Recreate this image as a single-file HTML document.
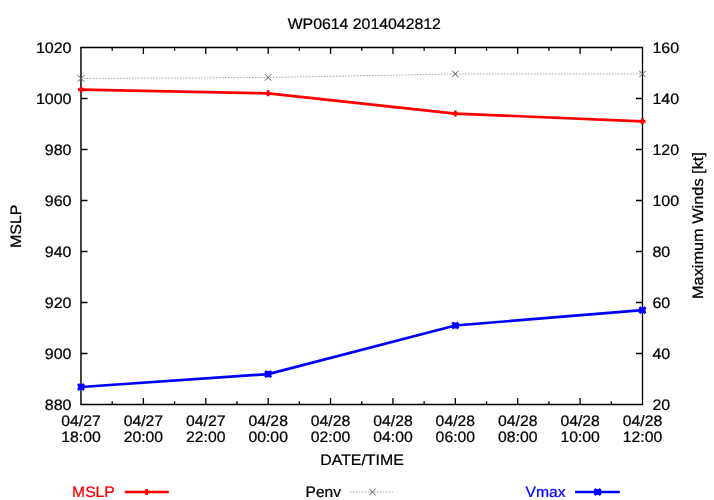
<!DOCTYPE html>
<html><head><meta charset="utf-8"><title>WP0614 2014042812</title>
<style>html,body{margin:0;padding:0;background:#fff;overflow:hidden;}svg{display:block;will-change:transform;}text{text-rendering:geometricPrecision;stroke-width:0.25px;font-family:"Liberation Sans",sans-serif;font-size:16px;}</style>
</head><body>
<svg width="714" height="500" viewBox="0 0 714 500">
<rect x="0" y="0" width="714" height="500" fill="#ffffff"/>
<path d="M81.00 98.50h6.50M642.50 98.50h-6.50M81.00 149.50h6.50M642.50 149.50h-6.50M81.00 200.50h6.50M642.50 200.50h-6.50M81.00 251.50h6.50M642.50 251.50h-6.50M81.00 302.50h6.50M642.50 302.50h-6.50M81.00 353.50h6.50M642.50 353.50h-6.50M112.19 404.50v-3.20M112.19 47.50v3.20M143.39 404.50v-6.50M143.39 47.50v6.50M174.58 404.50v-3.20M174.58 47.50v3.20M205.78 404.50v-6.50M205.78 47.50v6.50M236.97 404.50v-3.20M236.97 47.50v3.20M268.17 404.50v-6.50M268.17 47.50v6.50M299.36 404.50v-3.20M299.36 47.50v3.20M330.56 404.50v-6.50M330.56 47.50v6.50M361.75 404.50v-3.20M361.75 47.50v3.20M392.94 404.50v-6.50M392.94 47.50v6.50M424.14 404.50v-3.20M424.14 47.50v3.20M455.33 404.50v-6.50M455.33 47.50v6.50M486.53 404.50v-3.20M486.53 47.50v3.20M517.72 404.50v-6.50M517.72 47.50v6.50M548.92 404.50v-3.20M548.92 47.50v3.20M580.11 404.50v-6.50M580.11 47.50v6.50M611.31 404.50v-3.20M611.31 47.50v3.20" stroke="#000" stroke-width="1.3" fill="none"/>
<path d="M80.30 47.50H642.50V404.50H80.30" fill="none" stroke="#000" stroke-width="1.3" stroke-linejoin="miter"/>
<path d="M80.97 47.50V404.50" fill="none" stroke="#000" stroke-width="1.45"/>
<polyline points="81.00,78.50 268.17,77.45 455.33,74.00 642.50,74.00" fill="none" stroke="#a4a4a4" stroke-width="1" stroke-dasharray="1.5 1.5"/>
<path d="M77.80 75.30l6.40 6.40M77.80 81.70l6.40 -6.40M264.97 74.25l6.40 6.40M264.97 80.65l6.40 -6.40M452.13 70.80l6.40 6.40M452.13 77.20l6.40 -6.40M639.30 70.80l6.40 6.40M639.30 77.20l6.40 -6.40" stroke="#585858" stroke-width="1" fill="none"/>
<polyline points="81.00,89.70 268.17,93.30 455.33,113.60 642.50,121.30" fill="none" stroke="#ff0000" stroke-width="2.67" stroke-linejoin="round"/>
<path d="M78.00 89.70h6.00M81.00 86.70v6.00M265.17 93.30h6.00M268.17 90.30v6.00M452.33 113.60h6.00M455.33 110.60v6.00M639.50 121.30h6.00M642.50 118.30v6.00" stroke="#ff0000" stroke-width="2.67" fill="none"/>
<polyline points="81.00,387.00 268.17,374.10 455.33,325.50 642.50,310.20" fill="none" stroke="#0000ff" stroke-width="2.67" stroke-linejoin="round"/>
<path d="M77.95 387.00h6.10M81.00 383.95v6.10M77.95 383.95l6.10 6.10M77.95 390.05l6.10 -6.10M265.12 374.10h6.10M268.17 371.05v6.10M265.12 371.05l6.10 6.10M265.12 377.15l6.10 -6.10M452.28 325.50h6.10M455.33 322.45v6.10M452.28 322.45l6.10 6.10M452.28 328.55l6.10 -6.10M639.45 310.20h6.10M642.50 307.15v6.10M639.45 307.15l6.10 6.10M639.45 313.25l6.10 -6.10" stroke="#0000ff" stroke-width="2.67" fill="none"/>
<text transform="translate(364.25,28.90) scale(0.99,0.943)" text-anchor="middle" stroke="#000">WP0614 2014042812</text>
<text transform="translate(71.50,52.90) scale(1,0.943)" text-anchor="end" stroke="#000">1020</text>
<text transform="translate(71.50,103.90) scale(1,0.943)" text-anchor="end" stroke="#000">1000</text>
<text transform="translate(71.50,154.90) scale(1,0.943)" text-anchor="end" stroke="#000">980</text>
<text transform="translate(71.50,205.90) scale(1,0.943)" text-anchor="end" stroke="#000">960</text>
<text transform="translate(71.50,256.90) scale(1,0.943)" text-anchor="end" stroke="#000">940</text>
<text transform="translate(71.50,307.90) scale(1,0.943)" text-anchor="end" stroke="#000">920</text>
<text transform="translate(71.50,358.90) scale(1,0.943)" text-anchor="end" stroke="#000">900</text>
<text transform="translate(71.50,409.90) scale(1,0.943)" text-anchor="end" stroke="#000">880</text>
<text transform="translate(652.40,52.90) scale(1,0.943)" stroke="#000">160</text>
<text transform="translate(652.40,103.90) scale(1,0.943)" stroke="#000">140</text>
<text transform="translate(652.40,154.90) scale(1,0.943)" stroke="#000">120</text>
<text transform="translate(652.40,205.90) scale(1,0.943)" stroke="#000">100</text>
<text transform="translate(652.40,256.90) scale(1,0.943)" stroke="#000">80</text>
<text transform="translate(652.40,307.90) scale(1,0.943)" stroke="#000">60</text>
<text transform="translate(652.40,358.90) scale(1,0.943)" stroke="#000">40</text>
<text transform="translate(652.40,409.90) scale(1,0.943)" stroke="#000">20</text>
<text transform="translate(81.00,425.60) scale(0.985,0.943)" text-anchor="middle" stroke="#000">04/27</text>
<text transform="translate(81.00,441.60) scale(0.985,0.943)" text-anchor="middle" stroke="#000">18:00</text>
<text transform="translate(143.39,425.60) scale(0.985,0.943)" text-anchor="middle" stroke="#000">04/27</text>
<text transform="translate(143.39,441.60) scale(0.985,0.943)" text-anchor="middle" stroke="#000">20:00</text>
<text transform="translate(205.78,425.60) scale(0.985,0.943)" text-anchor="middle" stroke="#000">04/27</text>
<text transform="translate(205.78,441.60) scale(0.985,0.943)" text-anchor="middle" stroke="#000">22:00</text>
<text transform="translate(268.17,425.60) scale(0.985,0.943)" text-anchor="middle" stroke="#000">04/28</text>
<text transform="translate(268.17,441.60) scale(0.985,0.943)" text-anchor="middle" stroke="#000">00:00</text>
<text transform="translate(330.56,425.60) scale(0.985,0.943)" text-anchor="middle" stroke="#000">04/28</text>
<text transform="translate(330.56,441.60) scale(0.985,0.943)" text-anchor="middle" stroke="#000">02:00</text>
<text transform="translate(392.94,425.60) scale(0.985,0.943)" text-anchor="middle" stroke="#000">04/28</text>
<text transform="translate(392.94,441.60) scale(0.985,0.943)" text-anchor="middle" stroke="#000">04:00</text>
<text transform="translate(455.33,425.60) scale(0.985,0.943)" text-anchor="middle" stroke="#000">04/28</text>
<text transform="translate(455.33,441.60) scale(0.985,0.943)" text-anchor="middle" stroke="#000">06:00</text>
<text transform="translate(517.72,425.60) scale(0.985,0.943)" text-anchor="middle" stroke="#000">04/28</text>
<text transform="translate(517.72,441.60) scale(0.985,0.943)" text-anchor="middle" stroke="#000">08:00</text>
<text transform="translate(580.11,425.60) scale(0.985,0.943)" text-anchor="middle" stroke="#000">04/28</text>
<text transform="translate(580.11,441.60) scale(0.985,0.943)" text-anchor="middle" stroke="#000">10:00</text>
<text transform="translate(642.50,425.60) scale(0.985,0.943)" text-anchor="middle" stroke="#000">04/28</text>
<text transform="translate(642.50,441.60) scale(0.985,0.943)" text-anchor="middle" stroke="#000">12:00</text>
<text transform="translate(362.00,465.20) scale(0.992,0.943)" text-anchor="middle" stroke="#000">DATE/TIME</text>
<text transform="translate(21.10,226.30) rotate(-90) scale(1,0.943)" text-anchor="middle" stroke="#000">MSLP</text>
<text transform="translate(702.50,225.60) rotate(-90) scale(1.02,0.943)" text-anchor="middle" stroke="#000">Maximum Winds [kt]</text>
<text transform="translate(114.80,497.10) scale(0.98,0.943)" text-anchor="end" fill="#ff0000" stroke="#ff0000">MSLP</text>
<path d="M124.7 492.00H168.8" stroke="#ff0000" stroke-width="2.67"/>
<path d="M143.70 492.00h6.00M146.70 489.00v6.00" stroke="#ff0000" stroke-width="2.67" fill="none"/>
<text transform="translate(340.90,497.10) scale(0.97,0.943)" text-anchor="end" stroke="#000">Penv</text>
<path d="M349.8 492.00H392.9" stroke="#a4a4a4" stroke-width="1" stroke-dasharray="1.5 1.5"/>
<path d="M369.20 488.80l6.40 6.40M369.20 495.20l6.40 -6.40" stroke="#585858" stroke-width="1" fill="none"/>
<text transform="translate(565.60,497.10) scale(0.98,0.943)" text-anchor="end" fill="#0000ff" stroke="#0000ff">Vmax</text>
<path d="M575.1 492.00H619.8" stroke="#0000ff" stroke-width="2.67"/>
<path d="M594.55 492.00h6.10M597.60 488.95v6.10M594.55 488.95l6.10 6.10M594.55 495.05l6.10 -6.10" stroke="#0000ff" stroke-width="2.67" fill="none"/>
</svg></body></html>
